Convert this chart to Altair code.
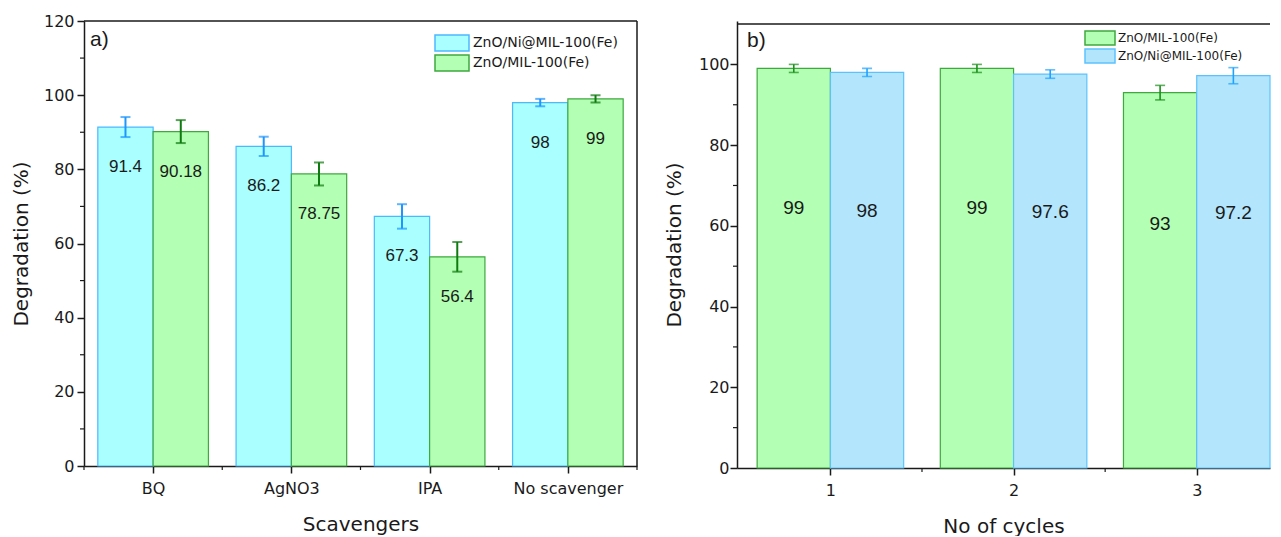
import json
import altair as alt
import pandas as pd

FONT = "Liberation Sans"      # bar labels / panel tags
AXFONT = "DejaVu Sans"        # axes and legends (wider glyphs, like the source)
INK = "#1a1a1a"

# ---------------- Panel a data ----------------
scavengers = ["BQ", "AgNO3", "IPA", "No scavenger"]
series_a = ["ZnO/Ni@MIL-100(Fe)", "ZnO/MIL-100(Fe)"]
ni_a = [91.4, 86.2, 67.3, 98]
ni_a_err = [2.7, 2.6, 3.3, 1.0]
zn_a = [90.18, 78.75, 56.4, 99]
zn_a_err = [3.1, 3.1, 4.0, 1.0]

# ---------------- Panel b data ----------------
cycles = [1, 2, 3]
series_b = ["ZnO/MIL-100(Fe)", "ZnO/Ni@MIL-100(Fe)"]
zn_b = [99, 99, 93]
zn_b_err = [1.0, 1.0, 1.8]
ni_b = [98, 97.6, 97.2]
ni_b_err = [1.0, 1.05, 2.0]

# axis ticks
y_ticks_a = [0, 20, 40, 60, 80, 100, 120]
y_minor_a = [10, 30, 50, 70, 90, 110]
x_minor_a = [0.5, 1.5, 2.5, 3.5, 4.5]
y_ticks_b = [0, 20, 40, 60, 80, 100]
y_minor_b = [10, 30, 50, 70, 90]
x_minor_b = [1.5, 2.5]
y_top_a = 120   # frame top (axis maximum) of each panel
y_top_b = 110

# colours
A_COL = {
    "fill": ["#aaffff", "#b3ffb3"],
    "edge": ["#4cb8ff", "#3fa83f"],
    "err": ["#1e96ff", "#0f7a0f"],
}
B_COL = {
    "fill": ["#b3ffb3", "#b3e5fc"],
    "edge": ["#3fa83f", "#5cc2ff"],
    "err": ["#1a8f1a", "#1ea2ff"],
}


def build(series, groups, values_list, errs_list):
    rows = []
    for slot, (name, vals, errs) in enumerate(zip(series, values_list, errs_list)):
        for i, (g, v, e) in enumerate(zip(groups, vals, errs)):
            rows.append(dict(pos=i + 1, slot=slot, series=name, value=v, err=e,
                             label=f"{v:g}"))
    return pd.DataFrame(rows)


df_a = build(series_a, scavengers, [ni_a, zn_a], [ni_a_err, zn_a_err])
df_b = build(series_b, cycles, [zn_b, ni_b], [zn_b_err, ni_b_err])

W_A, H_A = 553, 445
W_B, H_B = 533, 447

# wide rectangular legend swatches (path scaled by sqrt(size)/2)
RECT_A = "M-2.125,-1L2.125,-1L2.125,1L-2.125,1Z"   # 34 x 16 with size 256
RECT_B = "M-2.143,-1L2.143,-1L2.143,1L-2.143,1Z"   # 30 x 14 with size 196


def panel(df, series, cols, xs, ys, W, H, x_axis, y_axis, legend, label_mode,
          label_size, y_minor, x_minor, y_top, tag, tag_xy, frame_right, err_w):
    base = alt.Chart(df).transform_calculate(
        x0="datum.pos - 0.4 + 0.4 * datum.slot",
        x1="datum.pos + 0.4 * datum.slot",
        xc="datum.pos - 0.2 + 0.4 * datum.slot",
        lo="datum.value - datum.err",
        hi="datum.value + datum.err",
        ly="datum.value * 0.65",
    )
    fill_scale = alt.Scale(domain=series, range=cols["fill"])
    edge_scale = alt.Scale(domain=series, range=cols["edge"])
    err_scale = alt.Scale(domain=series, range=cols["err"])

    bars = base.mark_bar(strokeWidth=1.2).encode(
        x=alt.X("x0:Q", scale=xs, axis=x_axis),
        x2="x1:Q",
        y=alt.Y("value:Q", scale=ys, axis=y_axis, stack=None),
        y2=alt.datum(0),
        fill=alt.Fill("series:N", scale=fill_scale, legend=legend),
        stroke=alt.Stroke("series:N", scale=edge_scale, legend=legend),
    )
    ex = alt.X("xc:Q", scale=xs, axis=x_axis)
    ecol = alt.Color("series:N", scale=err_scale, legend=None)
    err = base.mark_rule(strokeWidth=err_w).encode(
        x=ex, y=alt.Y("lo:Q", scale=ys, axis=y_axis), y2="hi:Q", color=ecol)
    cap_lo = base.mark_tick(orient="horizontal", size=10, thickness=err_w).encode(
        x=ex, y=alt.Y("lo:Q", scale=ys, axis=y_axis), color=ecol)
    cap_hi = base.mark_tick(orient="horizontal", size=10, thickness=err_w).encode(
        x=ex, y=alt.Y("hi:Q", scale=ys, axis=y_axis), color=ecol)

    if label_mode == "below":
        text = base.mark_text(font=FONT, fontSize=label_size, color=INK, dy=40).encode(
            x=ex, y=alt.Y("value:Q", scale=ys, axis=y_axis), text="label:N")
    else:
        text = base.mark_text(font=FONT, fontSize=label_size, color=INK).encode(
            x=ex, y=alt.Y("ly:Q", scale=ys, axis=y_axis), text="label:N")

    ymin = alt.Chart(pd.DataFrame({"v": y_minor})).mark_rule(
        color=INK, strokeWidth=1.2).encode(
        y=alt.Y("v:Q", scale=ys, axis=y_axis), x=alt.value(0), x2=alt.value(-4))
    xmin = alt.Chart(pd.DataFrame({"v": x_minor})).mark_rule(
        color=INK, strokeWidth=1.2).encode(
        x=alt.X("v:Q", scale=xs, axis=x_axis), y=alt.value(H), y2=alt.value(H + 4))

    one = pd.DataFrame({"t": [tag], "top": [y_top]})
    top = alt.Chart(one).mark_rule(color=INK, strokeWidth=1.5).encode(
        x=alt.value(0), x2=alt.value(W), y=alt.Y("top:Q", scale=ys, axis=y_axis))
    layers = [bars, err, cap_lo, cap_hi, text, ymin, xmin, top]
    if frame_right:
        right = alt.Chart(one).mark_rule(color=INK, strokeWidth=1.5).encode(
            x=alt.value(W), y=alt.value(0), y2=alt.value(H))
        layers.append(right)
    tag_t = alt.Chart(one).mark_text(font=FONT, fontSize=21, color=INK,
                                     align="left", baseline="middle").encode(
        text="t:N", x=alt.value(tag_xy[0]), y=alt.value(tag_xy[1]))
    layers.append(tag_t)
    return alt.layer(*layers).properties(width=W, height=H)


def axis_common(**kw):
    d = dict(grid=False, tickSize=7, tickWidth=1.5, tickColor=INK,
             domainColor=INK, domainWidth=1.5, labelFont=AXFONT,
             labelFontSize=16, labelColor=INK, titleFont=AXFONT,
             titleFontSize=20, titleFontWeight="normal", titleColor=INK,
             labelFlush=False)
    d.update(kw)
    return alt.Axis(**d)


xs_a = alt.Scale(domain=[0.5, 4.5], nice=False, zero=False)
ys_a = alt.Scale(domain=[0, 120], nice=False, zero=True)
x_axis_a = axis_common(values=[1, 2, 3, 4], title="Scavengers",
                       labelExpr=f"{json.dumps(scavengers)}[datum.value - 1]",
                       labelPadding=7, titlePadding=18)
y_axis_a = axis_common(values=y_ticks_a, title="Degradation (%)",
                       labelPadding=3, titlePadding=12)
legend_a = alt.Legend(orient="none", legendX=359, legendY=13, title=None,
                      symbolType=RECT_A, symbolSize=256, symbolStrokeWidth=1.5,
                      labelFont=AXFONT, labelFontSize=14, labelColor=INK,
                      labelOffset=12, rowPadding=-3, padding=0)

xs_b = alt.Scale(domain=[0.49, 3.40], nice=False, zero=False)
ys_b = alt.Scale(domain=[0, 110.75], nice=False, zero=True)
x_axis_b = axis_common(values=cycles, format="d", title="No of cycles",
                       labelPadding=7, titlePadding=18)
y_axis_b = axis_common(values=y_ticks_b, title="Degradation (%)",
                       labelPadding=1, titlePadding=14)
legend_b = alt.Legend(orient="none", legendX=355, legendY=9, title=None,
                      symbolType=RECT_B, symbolSize=196, symbolStrokeWidth=1.5,
                      labelFont=AXFONT, labelFontSize=12, labelColor=INK,
                      labelOffset=10, rowPadding=-2, padding=0)

panel_a = panel(df_a, series_a, A_COL, xs_a, ys_a, W_A, H_A, x_axis_a, y_axis_a,
                legend_a, "below", 17, y_minor_a, x_minor_a, y_top_a, "a)", (6, 19),
                True, 2)
panel_b = panel(df_b, series_b, B_COL, xs_b, ys_b, W_B, H_B, x_axis_b, y_axis_b,
                legend_b, "inside", 19, y_minor_b, x_minor_b, y_top_b, "b)", (10, 20),
                False, 1.6)

chart = alt.hconcat(panel_a, panel_b, spacing=100, bounds="flush").resolve_scale(
    x="independent", y="independent", fill="independent",
    stroke="independent", color="independent"
).resolve_legend(fill="independent", stroke="independent", color="independent").properties(
    padding={"left": 3, "top": 5, "right": 0, "bottom": 0}
).configure_view(stroke=None)

chart.save("out.html", embed_options={"renderer": "svg", "actions": False})
